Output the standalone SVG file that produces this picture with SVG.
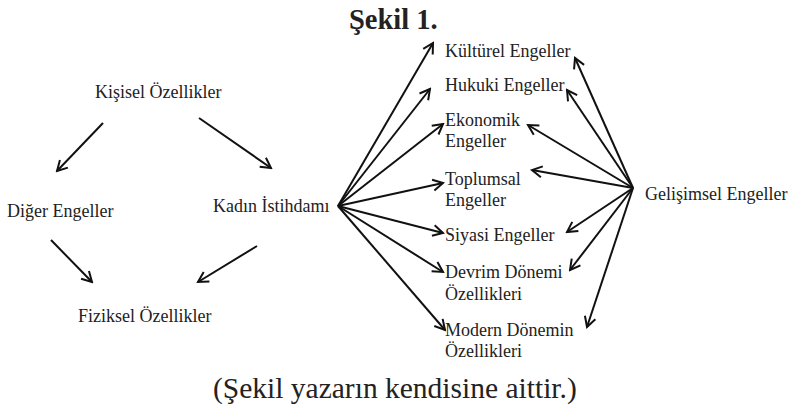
<svg xmlns="http://www.w3.org/2000/svg" width="793" height="407" viewBox="0 0 793 407">
<style>
text{font-family:"Liberation Serif","Times New Roman",serif;fill:#222;}
.n{font-size:18px;}
.c line{stroke:#111;stroke-width:2;marker-end:url(#ah);}
</style>
<defs>
<marker id="ah" markerUnits="userSpaceOnUse" viewBox="0 0 14 14" markerWidth="14" markerHeight="14" refX="12" refY="7" orient="auto">
<path d="M2,1.5 L12,7 L2,12.5" fill="none" stroke="#111" stroke-width="2" stroke-linejoin="miter"/>
</marker>
</defs>
<rect width="793" height="407" fill="#fff"/>
<text x="349" y="29" font-size="28.5" font-weight="bold">Şekil 1.</text>
<g id="kisisel"><text class="n" x="95" y="98">Kişisel Özellikler</text></g>
<g id="diger"><text class="n" x="7" y="217">Diğer Engeller</text></g>
<g id="kadin"><text class="n" x="213" y="212">Kadın İstihdamı</text></g>
<g id="fiziksel"><text class="n" x="78" y="322">Fiziksel Özellikler</text></g>
<g id="kulturel"><text class="n" x="445" y="57">Kültürel Engeller</text></g>
<g id="hukuki"><text class="n" x="445" y="91">Hukuki Engeller</text></g>
<g id="ekonomik"><text class="n" x="445" y="126">Ekonomik</text><text class="n" x="445" y="147">Engeller</text></g>
<g id="toplumsal"><text class="n" x="445" y="185">Toplumsal</text><text class="n" x="445" y="206">Engeller</text></g>
<g id="siyasi"><text class="n" x="445" y="241">Siyasi Engeller</text></g>
<g id="devrim"><text class="n" x="445" y="278">Devrim Dönemi</text><text class="n" x="445" y="300">Özellikleri</text></g>
<g id="modern"><text class="n" x="445" y="336">Modern Dönemin</text><text class="n" x="445" y="357">Özellikleri</text></g>
<g id="gelisimsel"><text class="n" x="645" y="200">Gelişimsel Engeller</text></g>
<g id="connectors" class="c">
<line x1="103" y1="123" x2="57" y2="171"/>
<line x1="199" y1="118" x2="271" y2="168"/>
<line x1="51" y1="240" x2="92" y2="282"/>
<line x1="257" y1="246" x2="198" y2="282"/>
<line x1="338" y1="206" x2="433" y2="43"/>
<line x1="338" y1="206" x2="430" y2="89"/>
<line x1="338" y1="206" x2="443" y2="124"/>
<line x1="338" y1="206" x2="443" y2="183"/>
<line x1="338" y1="206" x2="443" y2="233"/>
<line x1="338" y1="206" x2="443" y2="272"/>
<line x1="338" y1="206" x2="445" y2="330"/>
<line x1="633" y1="188" x2="575" y2="58"/>
<line x1="633" y1="188" x2="567" y2="90"/>
<line x1="633" y1="188" x2="528" y2="125"/>
<line x1="633" y1="188" x2="532" y2="170"/>
<line x1="633" y1="188" x2="567" y2="232"/>
<line x1="633" y1="188" x2="570" y2="270"/>
<line x1="633" y1="188" x2="587" y2="327"/>
</g>
<text x="213" y="398" font-size="29.5">(Şekil yazarın kendisine aittir.)</text>
</svg>
